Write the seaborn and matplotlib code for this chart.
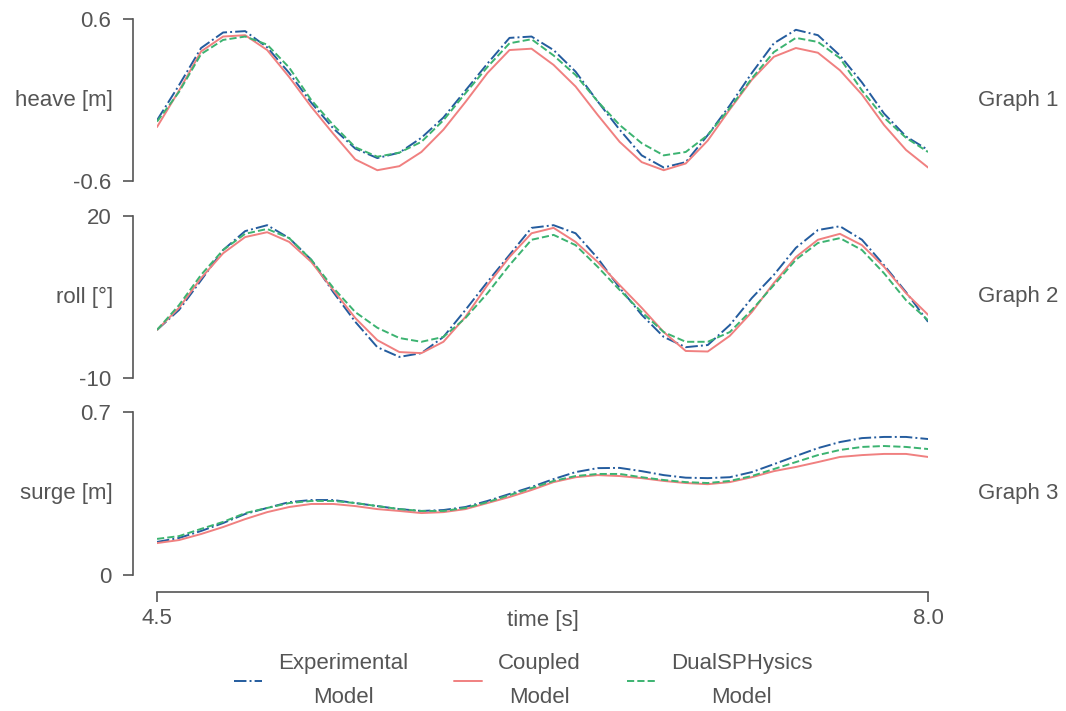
import numpy as np
import matplotlib
matplotlib.use('Agg')
import matplotlib.pyplot as plt
import seaborn as sns

# time axis (s)
t = np.round(np.arange(4.5, 8.01, 0.1), 1)

# heave [m]
heave_exp = [-0.15, 0.11, 0.385, 0.50, 0.51,
             0.39, 0.20, -0.02, -0.21, -0.36, -0.43, -0.39, -0.28, -0.13, 0.07,
             0.27, 0.46, 0.47, 0.37, 0.21, -0.01, -0.22, -0.41, -0.50, -0.46,
             -0.26, -0.04, 0.20, 0.42, 0.52, 0.48, 0.33, 0.13, -0.10, -0.27,
             -0.37]
heave_cpl = [-0.20, 0.07, 0.36, 0.47, 0.48,
             0.37, 0.17, -0.05, -0.25, -0.44, -0.52, -0.49, -0.385, -0.22, -0.015,
             0.20, 0.37, 0.38, 0.26, 0.10, -0.11, -0.31, -0.46, -0.52, -0.47,
             -0.30, -0.07, 0.15, 0.32, 0.385, 0.35, 0.22, 0.04, -0.185, -0.37,
             -0.50]
heave_dsp = [-0.16, 0.06, 0.34, 0.445, 0.47,
             0.41, 0.24, 0.0, -0.185, -0.35, -0.42, -0.39, -0.31, -0.15, 0.05,
             0.245, 0.42, 0.45, 0.33, 0.185, -0.01, -0.185, -0.32, -0.41, -0.385,
             -0.26, -0.06, 0.16, 0.355, 0.46, 0.43, 0.31, 0.07, -0.13, -0.28,
             -0.385]

# roll [deg]
roll_exp = [-1.1, 2.6, 8.1, 13.7, 17.2,
            18.3, 15.9, 11.9, 5.9, 0.4, -4.3, -6.1, -5.4, -2.4, 2.6,
            7.8, 12.8, 17.8, 18.3, 16.8, 12.2, 6.7, 1.7, -2.4, -4.3,
            -3.9, -0.2, 4.8, 9.1, 14.1, 17.4, 18.1, 15.6, 10.9, 5.9,
            0.4]
roll_cpl = [-1.1, 3.0, 8.5, 13.1, 16.1,
            17.0, 15.2, 11.5, 6.3, 1.1, -3.0, -5.2, -5.4, -3.3, 1.3,
            7.2, 12.4, 16.8, 17.8, 15.2, 11.5, 7.2, 3.0, -1.5, -5.0,
            -5.1, -2.2, 2.2, 7.6, 12.4, 15.6, 16.7, 14.6, 10.6, 5.7,
            1.7]
roll_dsp = [-1.1, 3.5, 9.1, 13.7, 16.7,
            17.6, 15.9, 11.9, 6.7, 2.2, -0.7, -2.6, -3.3, -2.4, 1.1,
            5.7, 10.9, 15.6, 16.5, 14.6, 10.6, 6.3, 2.2, -1.5, -3.3,
            -3.3, -1.5, 2.6, 7.2, 11.9, 15.0, 15.9, 13.7, 9.4, 4.4,
            0.7]

# surge [m]
surge_exp = [0.142, 0.159, 0.189, 0.223, 0.262,
             0.288, 0.313, 0.322, 0.322, 0.309, 0.296, 0.283, 0.275, 0.279, 0.292,
             0.318, 0.348, 0.378, 0.412, 0.442, 0.459, 0.46, 0.446, 0.429, 0.418,
             0.416, 0.42, 0.442, 0.476, 0.511, 0.545, 0.571, 0.588, 0.593, 0.593,
             0.584]
surge_cpl = [0.137, 0.150, 0.176, 0.206, 0.24,
             0.27, 0.292, 0.305, 0.305, 0.296, 0.283, 0.275, 0.266, 0.27, 0.283,
             0.309, 0.335, 0.365, 0.399, 0.42, 0.429, 0.425, 0.416, 0.404, 0.395,
             0.39, 0.399, 0.42, 0.446, 0.464, 0.485, 0.507, 0.515, 0.52, 0.52,
             0.507]
surge_dsp = [0.155, 0.167, 0.198, 0.228, 0.266,
             0.288, 0.309, 0.318, 0.318, 0.309, 0.296, 0.283, 0.275, 0.275, 0.288,
             0.313, 0.343, 0.373, 0.404, 0.425, 0.434, 0.434, 0.42, 0.408, 0.399,
             0.395, 0.404, 0.425, 0.455, 0.485, 0.515, 0.537, 0.55, 0.554, 0.55,
             0.541]

models = ['Experimental\nModel', 'Coupled\nModel', 'DualSPHysics\nModel']
colors = ['#245C9E', '#F08080', '#3CB371']
styles = ['-.', '-', '--']

panels = [
    ([heave_exp, heave_cpl, heave_dsp], 'heave [m]', (-0.6, 0.6), ['-0.6', '0.6'], 'Graph 1'),
    ([roll_exp, roll_cpl, roll_dsp], 'roll [°]', (-10, 20), ['-10', '20'], 'Graph 2'),
    ([surge_exp, surge_cpl, surge_dsp], 'surge [m]', (0, 0.7), ['0', '0.7'], 'Graph 3'),
]

sns.set_theme(style='ticks')
grey = '#555555'
plt.rcParams['font.family'] = ['Liberation Sans', 'DejaVu Sans']
plt.rcParams['text.color'] = grey
plt.rcParams['axes.labelcolor'] = grey

fig = plt.figure(figsize=(10.66, 7.11), dpi=100)

# axes boxes in figure fraction: [left, bottom, width, height]
boxes = [[0.1473, 0.7454, 0.7233, 0.2279],
         [0.1473, 0.4684, 0.7233, 0.2278],
         [0.1473, 0.1913, 0.7233, 0.2292]]

axes = []
for i, (series, ylab, ylim, yt, tag) in enumerate(panels):
    ax = fig.add_axes(boxes[i])
    for vals, name, c, ls in zip(series, models, colors, styles):
        sns.lineplot(x=t, y=vals, ax=ax, color=c, linestyle=ls, lw=1.4, label=name)
    ax.get_legend().remove()
    ax.set_xlim(4.5, 8.0)
    ax.set_ylim(*ylim)
    ax.set_yticks(list(ylim))
    ax.set_yticklabels(yt)
    ax.set_ylabel(ylab, rotation=0, ha='right', va='center', fontsize=16)
    ax.yaxis.set_label_coords(-0.057, 0.5)
    ax.text(1.065, 0.5, tag, transform=ax.transAxes, ha='left', va='center',
            fontsize=16, color=grey)
    ax.tick_params(axis='y', length=7, width=1.2, colors=grey, labelsize=16, pad=9)
    for sp in ax.spines.values():
        sp.set_color(grey)
        sp.set_linewidth(1.2)
    if i < 2:
        sns.despine(ax=ax, offset={'left': 17}, bottom=True)
        ax.tick_params(axis='x', bottom=False, labelbottom=False)
        ax.set_xlabel('')
    else:
        sns.despine(ax=ax, offset={'left': 17, 'bottom': 12})
        ax.set_xticks([4.5, 8.0])
        ax.set_xticklabels(['4.5', '8.0'])
        ax.tick_params(axis='x', length=7, width=1.2, colors=grey, labelsize=16, pad=5)
        ax.set_xlabel('time [s]', fontsize=16)
        ax.xaxis.set_label_coords(0.5, -0.215)
    axes.append(ax)

handles, labels = axes[0].get_legend_handles_labels()
leg = fig.legend(handles, labels, loc='center', bbox_to_anchor=(0.491, 0.043),
                 ncol=3, frameon=False, fontsize=16, handlelength=1.26,
                 handletextpad=0.72, columnspacing=2.07)
for txt in leg.get_texts():
    txt.set_multialignment('center')
    txt.set_linespacing(1.8)
    txt.set_color(grey)

fig.savefig('out.png', dpi=100)
